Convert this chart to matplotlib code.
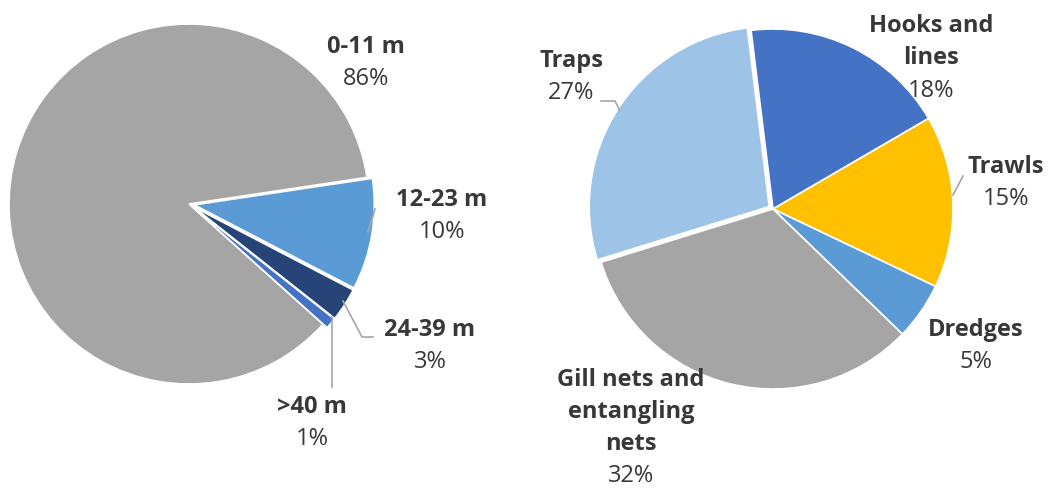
import matplotlib
matplotlib.use("Agg")
import matplotlib.pyplot as plt

plt.rcParams['font.family'] = ['Open Sans', 'DejaVu Sans']

# fleet by vessel length
length_classes = ['0-11 m', '12-23 m', '24-39 m', '>40 m']
length_shares = [86, 10, 3, 1]
length_colors = ['#A5A5A5', '#5B9BD5', '#264478', '#4472C4']

# fleet by main fishing gear
gear_types = ['Hooks and\nlines', 'Trawls', 'Dredges', 'Gill nets and\nentangling\nnets', 'Traps']
gear_shares = [18, 15, 5, 32, 27]
gear_colors = ['#4472C4', '#FFC000', '#5B9BD5', '#A5A5A5', '#9DC3E6']

W, H = 1049, 489
TXT = '#383838'
LINE = '#A6A6A6'
FS = 17
STEP = 32.5  # px between text lines

fig = plt.figure(figsize=(W / 100, H / 100), dpi=100)


def pie_axes(cx, cy, r, lim=1.12):
    half = r * lim
    ax = fig.add_axes([(cx - half) / W, (H - cy - half) / H, 2 * half / W, 2 * half / H])
    ax.axis('off')
    return ax, lim


def fx(px, py):
    return px / W, 1 - py / H


def label(px, py, name, pct, step=STEP):
    # py is the centre of the first line; the percentage goes below the last one
    lines = name.split('\n')
    for i, line in enumerate(lines):
        fig.text(*fx(px, py + i * step), line, ha='center', va='center',
                 fontsize=FS, fontweight='bold', color=TXT)
    fig.text(*fx(px, py + len(lines) * step), f'{pct}%', ha='center', va='center',
             fontsize=FS, color=TXT)


def leader(points):
    xs = [p[0] / W for p in points]
    ys = [1 - p[1] / H for p in points]
    fig.add_artist(plt.Line2D(xs, ys, color=LINE, lw=1.2, transform=fig.transFigure))


# left pie
ax1, lim = pie_axes(189, 205, 180)
ax1.pie(length_shares, colors=length_colors, startangle=-41.9, counterclock=False,
        explode=[0, 0.03, 0.03, 0.03], radius=1,
        wedgeprops=dict(edgecolor='white', linewidth=1.2))
ax1.set_xlim(-lim, lim)
ax1.set_ylim(-lim, lim)

# right pie
ax2, lim = pie_axes(773, 210, 180)
ax2.pie(gear_shares, colors=gear_colors, startangle=97, counterclock=False,
        explode=[0, 0, 0, 0, 0.025], radius=1,
        wedgeprops=dict(edgecolor='white', linewidth=1.2))
ax2.set_xlim(-lim, lim)
ax2.set_ylim(-lim, lim)

# labels, left
label(366, 47, length_classes[0], length_shares[0])
label(442, 200, length_classes[1], length_shares[1])
label(430, 330, length_classes[2], length_shares[2])
label(312, 407, length_classes[3], length_shares[3])

leader([(368, 233), (375, 210)])
leader([(343, 302), (362, 338), (373, 338)])
leader([(332, 318), (332, 388)])

# labels, right
label(931, 26, gear_types[0], gear_shares[0])
label(1006, 167, gear_types[1], gear_shares[1])
label(976, 330, gear_types[2], gear_shares[2])
label(631, 380, gear_types[3], gear_shares[3], step=32)
label(571, 61, gear_types[4], gear_shares[4])

leader([(620, 112), (615, 102), (601, 102)])
leader([(953, 196), (963, 177)])

fig.savefig('out.png', dpi=100)
